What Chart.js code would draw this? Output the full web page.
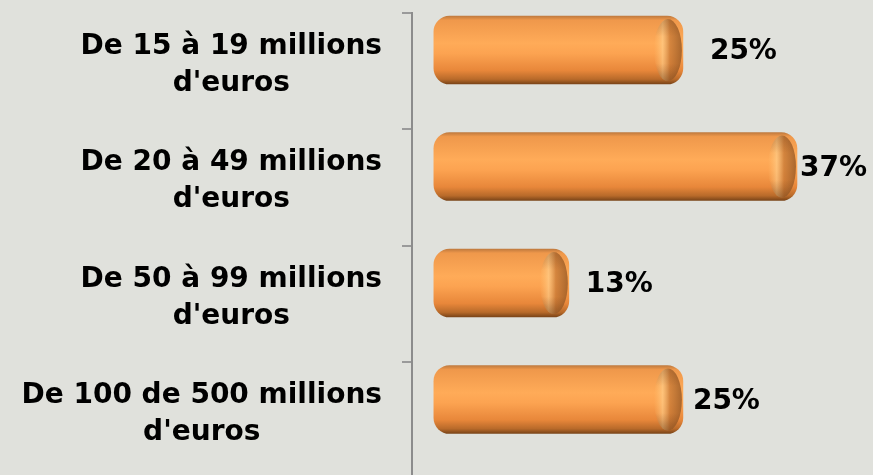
<!DOCTYPE html>
<html>
<head>
<meta charset="utf-8">
<script src="https://cdn.jsdelivr.net/npm/chart.js@4.4.0/dist/chart.umd.min.js"></script>
<style>
  html, body { margin: 0; padding: 0; background: #e0e1dc; }
  canvas { display: block; }
</style>
</head>
<body>
<canvas id="myChart" width="873" height="475"></canvas>
<script>
const ctx = document.getElementById('myChart').getContext('2d');

// ---- data ----
const categories = [
    ["De 15 à 19 millions", "d'euros"],
    ["De 20 à 49 millions", "d'euros"],
    ["De 50 à 99 millions", "d'euros"],
    ["De 100 de 500 millions", "d'euros"],
];
const shares = [25, 37, 13, 25];
const shareLabels = ["25%", "37%", "13%", "25%"];

// ---- style ----
const BAR_THICK = 68;
const labelGaps = [27, 3, 17, 10];   // space between bar end and its value label
const labelShift = 0.13;             // category text sits a bit below the bar centre
const FONT = 'bold 28px "DejaVu Sans"';

const points = shares.map((v, i) => ({ x: v, y: i }));

function barGradient(c) {
    const chart = c.chart;
    if (!chart.chartArea) return '#f5994a';
    const yc = chart.scales.y.getPixelForValue(c.dataIndex);
    const top = yc - BAR_THICK / 2, bottom = yc + BAR_THICK / 2;
    const g = chart.ctx.createLinearGradient(0, top, 0, bottom);
    g.addColorStop(0, '#c07a3e');
    g.addColorStop(0.06, '#ef984b');
    g.addColorStop(0.4, '#ffab58');
    g.addColorStop(0.55, '#fca351');
    g.addColorStop(0.8, '#e8873a');
    g.addColorStop(0.93, '#b86a2a');
    g.addColorStop(1, '#7a4418');
    return g;
}

/*---------- end caps, value labels, category labels ----------*/
const decor = {
    id: 'decor',
    afterDatasetsDraw(chart) {
        const c = chart.ctx;
        chart.getDatasetMeta(0).data.forEach((bar, i) => {
            const h = bar.height, cy = bar.y, rx = 14, cx = bar.x - 15;
            c.save();
            c.beginPath();
            c.ellipse(cx, cy, rx, h / 2 - 3, 0, 0, Math.PI * 2);
            const g = c.createLinearGradient(cx - rx, 0, bar.x, 0);
            g.addColorStop(0, 'rgba(255,200,120,0)');
            g.addColorStop(0.3, 'rgba(255,215,150,0.55)');
            g.addColorStop(0.55, 'rgba(195,118,52,0.7)');
            g.addColorStop(1, 'rgba(150,88,36,0.85)');
            c.fillStyle = g;
            c.fill();
            const v = c.createLinearGradient(0, cy - h / 2, 0, cy + h / 2);
            v.addColorStop(0, 'rgba(90,50,20,0.3)');
            v.addColorStop(0.3, 'rgba(90,50,20,0)');
            v.addColorStop(0.7, 'rgba(90,50,20,0)');
            v.addColorStop(1, 'rgba(90,50,20,0.4)');
            c.fillStyle = v;
            c.fill();
            c.restore();

            c.save();
            c.font = FONT;
            c.fillStyle = '#000';
            c.textAlign = 'left';
            c.textBaseline = 'middle';
            c.fillText(shareLabels[i], bar.x + labelGaps[i], cy + 2);
            c.restore();
        });
    },
    afterDraw(chart) {
        const c = chart.ctx;
        const y = chart.scales.y;
        const right = chart.chartArea.left - 30;
        c.save();
        c.font = FONT;
        c.fillStyle = '#000';
        c.textAlign = 'center';
        c.textBaseline = 'middle';
        categories.forEach((lines, i) => {
            const w = Math.max(...lines.map(t => c.measureText(t).width));
            const xc = right - w / 2;
            const yc = y.getPixelForValue(i + labelShift);
            lines.forEach((t, k) => {
                c.fillText(t, xc, yc + (k - (lines.length - 1) / 2) * 37);
            });
        });
        c.restore();
    }
};

const config = {
    type: 'bar',
    data: {
        datasets: [{
            data: points,
            base: -1.2,
            barThickness: BAR_THICK,
            borderRadius: 16,
            borderSkipped: false,
            backgroundColor: barGradient,
        }],
    },
    options: {
        indexAxis: 'y',
        responsive: false,
        animation: false,
        layout: { padding: { top: 13, right: 0, bottom: 0, left: 0 } },
        plugins: {
            legend: { display: false },
            tooltip: { enabled: false },
        },
        scales: {
            x: {
                type: 'linear',
                display: false,
                min: -3.5,
                max: 45,
            },
            y: {
                type: 'linear',
                reverse: true,
                offset: false,
                min: -0.318,
                max: 3.648,
                afterBuildTicks: s => {
                    s.ticks = [-0.318, 0.682, 1.682, 2.682].map(v => ({ value: v }));
                },
                afterFit: s => { s.width = 412; },
                ticks: { display: false },
                grid: {
                    offset: false,
                    drawOnChartArea: false,
                    drawTicks: true,
                    tickLength: 10,
                    color: '#9a9a9a',
                    lineWidth: 2,
                },
                border: { display: true, color: '#8c8c8c', width: 2 },
            },
        },
    },
    plugins: [decor],
};

const myChart = new Chart(ctx, config);
</script>
</body>
</html>
